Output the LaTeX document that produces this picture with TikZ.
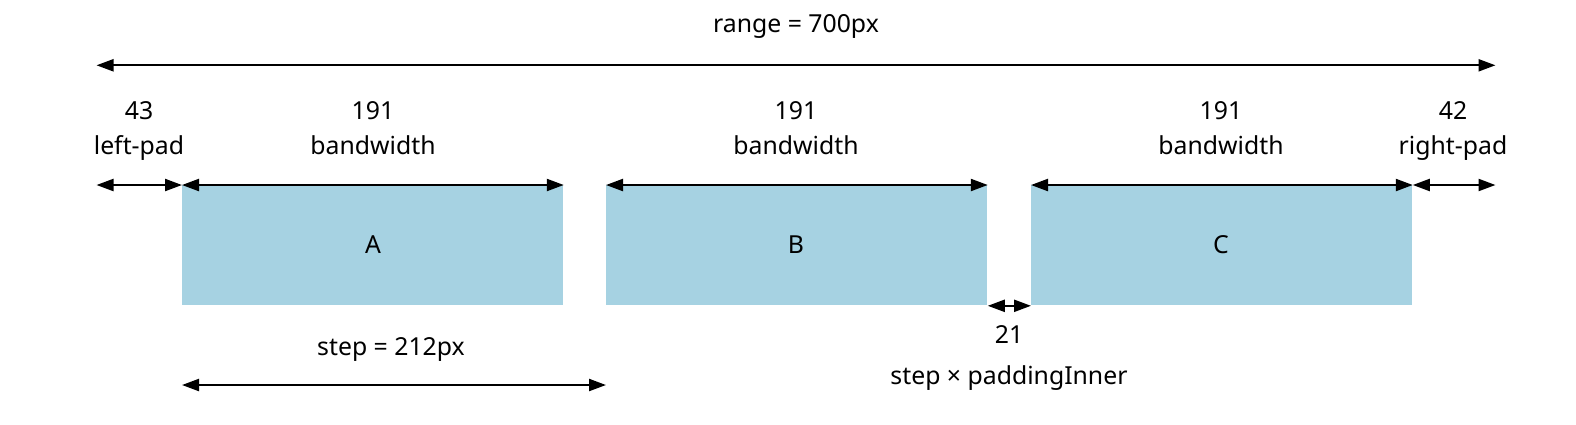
\documentclass[tikz,border=0pt]{standalone}
\usepackage{fontspec}
\setmainfont{Noto Sans}
\usetikzlibrary{arrows.meta}
\definecolor{barblue}{HTML}{A6D2E2}
\begin{document}
\begin{tikzpicture}[x=0.5pt,y=-0.5pt,
  lbl/.style={anchor=base,inner sep=0pt,font=\fontsize{12.4pt}{15pt}\selectfont},
  bar/.style={fill=barblue,draw=none,minimum width=190.5pt,minimum height=60pt,inner sep=0pt,anchor=north west},
  dim/.style={line width=1.1pt,{Triangle[length=8.5pt,width=6pt]}-{Triangle[length=8.5pt,width=6pt]}}]
\useasboundingbox (0,0) rectangle (1576,424);
% bars
\node[bar] (A) at (182,185) {};
\node[bar] (B) at (606,185) {};
\node[bar] (C) at (1031,185) {};
\node[lbl] (tA) at (373,253.5) {A};
\node[lbl] (tB) at (796,253.5) {B};
\node[lbl] (tC) at (1221,253.5) {C};
% range
\coordinate (r1) at (96.5,65.3);
\coordinate (r2) at (1495.5,65.3);
\draw[dim] (r1) -- (r2);
\node[lbl] (range) at (796,32) {range = 700px};
% pads
\coordinate (lp) at (96.5,185);
\coordinate (rp) at (1495.5,185);
\draw[dim] (lp) -- (A.north west);
\draw[dim] (C.north east) -- (rp);
\draw[dim] (A.north west) -- (A.north east);
\draw[dim] (B.north west) -- (B.north east);
\draw[dim] (C.north west) -- (C.north east);
\node[lbl] (n43) at (139,119.5) {43};
\node[lbl] (lpt) at (139,154.5) {left-pad};
\node[lbl] (n42) at (1453,119.5) {42};
\node[lbl] (rpt) at (1453,154.5) {right-pad};
\node[lbl] (bwA1) at (373,119.5) {191};
\node[lbl] (bwA2) at (373,154.5) {bandwidth};
\node[lbl] (bwB1) at (796,119.5) {191};
\node[lbl] (bwB2) at (796,154.5) {bandwidth};
\node[lbl] (bwC1) at (1221,119.5) {191};
\node[lbl] (bwC2) at (1221,154.5) {bandwidth};
% inner padding
\draw[dim] (B.south east) -- (C.south west);
\node[lbl] (n21) at (1009,343) {21};
\node[lbl] (pi) at (1009,384.5) {step × paddingInner};
% step
\coordinate (s1) at (182,385);
\coordinate (s2) at (606,385);
\draw[dim] (s1) -- (s2);
\node[lbl] (st) at (391,355.5) {step = 212px};
\end{tikzpicture}
\end{document}
